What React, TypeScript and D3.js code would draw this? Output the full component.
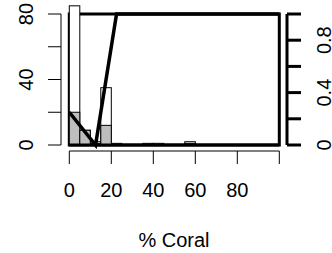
import React from "react";
import * as d3 from "d3";

// histogram bins (5-unit wide) of % Coral
const binStarts = [0, 5, 10, 15, 20, 25, 30, 35, 40, 45, 50, 55, 60, 65, 70, 75, 80, 85, 90, 95];
const totalCounts = [85, 9, 2, 35, 1, 0, 0, 1, 1, 0, 0, 2, 0, 0, 0, 0, 0, 0, 0, 0];
const presentCounts = [20, 9, 1, 12, 0, 0, 0, 0, 0, 0, 0, 1, 0, 0, 0, 0, 0, 0, 0, 0];
// fitted probability curve
const curveX = [0, 12.5, 22.5, 40, 60, 80, 100];
const curveY = [0.25, 0, 1, 1, 1, 1, 1];
const xTicks = [0, 20, 40, 60, 80, 100];
const xLabels = ["0", "20", "40", "60", "80", ""];
const leftTicks = [0, 20, 40, 60, 80];
const leftLabels = ["0", "", "40", "", "80"];
const rightTicks = [0, 0.2, 0.4, 0.6, 0.8, 1];
const rightLabels = ["0", "", "0.4", "", "0.8", ""];
const binWidth = 5;

export default function App() {
  const W = 332, H = 253;
  const x = d3.scaleLinear().domain([0, 100]).range([69.3, 279.3]);
  const yL = d3.scaleLinear().domain([0, 80]).range([145, 14]);
  const yR = d3.scaleLinear().domain([0, 1]).range([145, 14]);
  const font = "Liberation Sans, Arial, sans-serif";
  const fs = 20;
  const line = d3.line<number>().x((_, i) => x(curveX[i])).y((d) => yR(d));
  return (
    <svg width={W} height={H} style={{ position: "absolute", left: 0, top: 0, background: "#fff" }}>
      {/* frame */}
      <rect x={x(0)} y={yR(1)} width={x(100) - x(0)} height={yR(0) - yR(1)} fill="none" stroke="#000" strokeWidth={3} />
      {/* total bars */}
      {binStarts.map((b, i) =>
        totalCounts[i] > 0 ? (
          <rect key={"t" + i} x={x(b)} y={yL(totalCounts[i])} width={x(b + binWidth) - x(b)}
            height={yL(0) - yL(totalCounts[i])} fill="#fff" stroke="#000" strokeWidth={1} />
        ) : null
      )}
      {binStarts.map((b, i) =>
        presentCounts[i] > 0 ? (
          <rect key={"p" + i} x={x(b)} y={yL(presentCounts[i])} width={x(b + binWidth) - x(b)}
            height={yL(0) - yL(presentCounts[i])} fill="#bebebe" stroke="#000" strokeWidth={1} />
        ) : null
      )}
      {/* baseline */}
      <line x1={x(0)} x2={x(100)} y1={yL(0)} y2={yL(0)} stroke="#000" strokeWidth={3} />
      {/* curve */}
      <path d={line(curveY) || ""} fill="none" stroke="#000" strokeWidth={3.5} />
      {/* x axis */}
      <line x1={x(0)} x2={x(100)} y1={151} y2={151} stroke="#000" strokeWidth={1} />
      {xTicks.map((t, i) => (
        <g key={"x" + i}>
          <line x1={x(t)} x2={x(t)} y1={151} y2={164} stroke="#000" strokeWidth={1} />
          <text x={x(t)} y={197} textAnchor="middle" fontFamily={font} fontSize={fs}>{xLabels[i]}</text>
        </g>
      ))}
      <text x={174} y={247} textAnchor="middle" fontFamily={font} fontSize={fs}>% Coral</text>
      {/* left axis */}
      <line x1={61} x2={61} y1={yL(0)} y2={yL(80)} stroke="#000" strokeWidth={1} />
      {leftTicks.map((t, i) => (
        <g key={"l" + i}>
          <line x1={48} x2={61} y1={yL(t)} y2={yL(t)} stroke="#000" strokeWidth={1} />
          <text transform={`translate(33,${yL(t)}) rotate(-90)`} textAnchor="middle" fontFamily={font} fontSize={fs}>{leftLabels[i]}</text>
        </g>
      ))}
      {/* right axis */}
      <line x1={287} x2={287} y1={yR(0)} y2={yR(1)} stroke="#000" strokeWidth={3} />
      {rightTicks.map((t, i) => (
        <g key={"r" + i}>
          <line x1={287} x2={301} y1={yR(t)} y2={yR(t)} stroke="#000" strokeWidth={3} />
          <text transform={`translate(331,${yR(t)}) rotate(-90)`} textAnchor="middle" fontFamily={font} fontSize={fs}>{rightLabels[i]}</text>
        </g>
      ))}
    </svg>
  );
}
